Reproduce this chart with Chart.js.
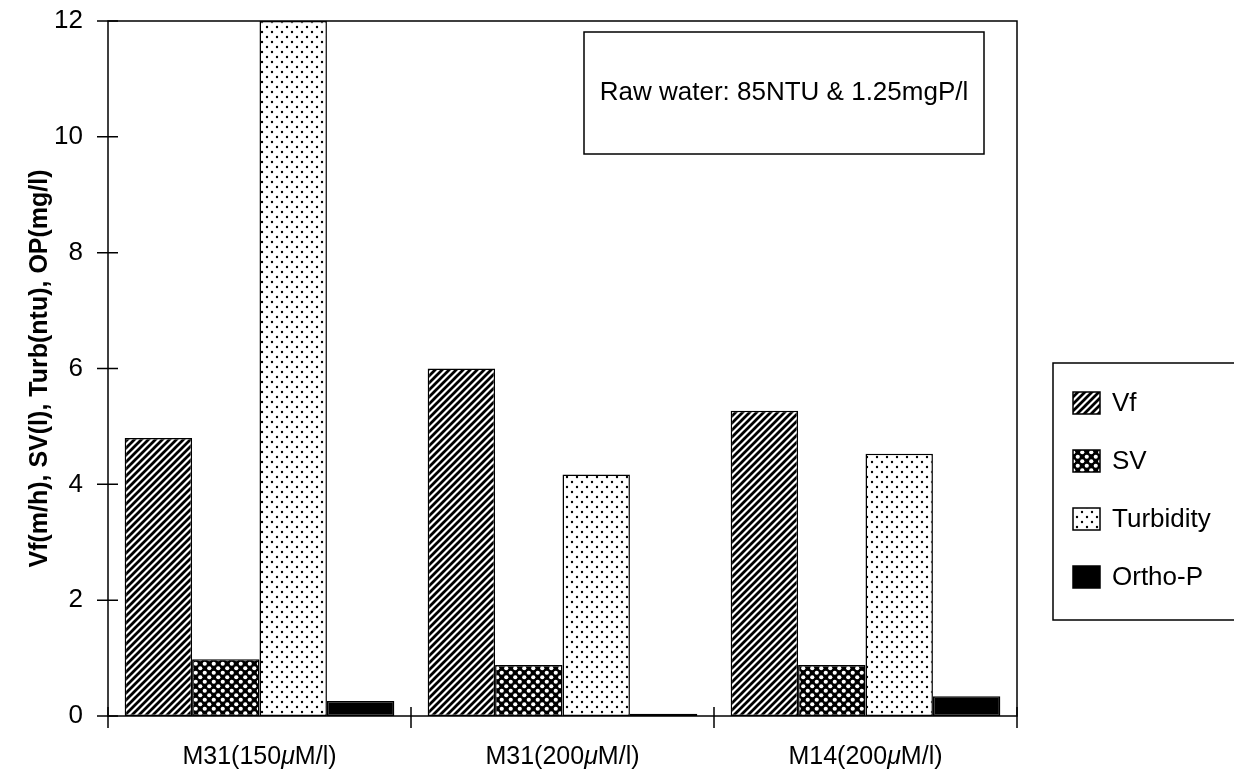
<!DOCTYPE html>
<html>
<head>
<meta charset="utf-8">
<script src="https://cdn.jsdelivr.net/npm/chart.js@4.4.1/dist/chart.umd.min.js"></script>
<style>
  html, body { margin: 0; padding: 0; background: #ffffff; }
  #wrap { width: 1234px; height: 781px; }
</style>
</head>
<body>
<div id="wrap"><canvas id="barChart" width="1234" height="781"></canvas></div>
<script>
// data
const categories = ["M31(150μM/l)", "M31(200μM/l)", "M14(200μM/l)"];
const seriesNames = ["Vf", "SV", "Turbidity", "Ortho-P"];
const vfValues = [4.8, 6.0, 5.27];
const svValues = [0.98, 0.88, 0.88];
const turbidityValues = [12, 4.17, 4.53];
const orthoValues = [0.26, 0.04, 0.34];
const yTicks = [0, 2, 4, 6, 8, 10, 12];
const noteText = "Raw water: 85NTU & 1.25mgP/l";
const yTitle = "Vf(m/h), SV(l), Turb(ntu), OP(mg/l)";

const FONT = "'Liberation Sans', Arial, sans-serif";

// =====================================
// FILL PATTERNS
// =====================================

function makePattern(w, h, draw) {
    const c = document.createElement("canvas");
    c.width = w;
    c.height = h;
    const g = c.getContext("2d");
    draw(g, w, h);
    return c.getContext("2d").createPattern(c, "repeat");
}

const hatch = makePattern(7, 7, (g, w, h) => {
    g.fillStyle = "#fff";
    g.fillRect(0, 0, w, h);
    g.strokeStyle = "#000";
    g.lineWidth = 2.8;
    g.beginPath();
    for (let k = -1; k <= 1; k++) {
        g.moveTo(k * w - 1, h + 1);
        g.lineTo(k * w + w + 1, -1);
    }
    g.stroke();
});

const checker = makePattern(9, 9, (g, w, h) => {
    g.fillStyle = "#000";
    g.fillRect(0, 0, w, h);
    g.fillStyle = "#fff";
    [[2.25, 2.25], [6.75, 6.75]].forEach(([x, y]) => {
        g.beginPath();
        g.arc(x, y, 2.1, 0, Math.PI * 2);
        g.fill();
    });
});

const dots = makePattern(10, 10, (g, w, h) => {
    g.fillStyle = "#fff";
    g.fillRect(0, 0, w, h);
    g.fillStyle = "#000";
    [[2, 2], [7, 7]].forEach(([x, y]) => {
        g.beginPath();
        g.arc(x, y, 1.2, 0, Math.PI * 2);
        g.fill();
    });
});

const fills = [hatch, checker, dots, "#000000"];
const seriesValues = [vfValues, svValues, turbidityValues, orthoValues];

// =====================================
// PLUGIN: frame, crossing ticks, labels, note, legend
// =====================================

const decorations = {
    id: "decorations",
    afterDraw(chart) {
        const ctx = chart.ctx;
        const a = chart.chartArea;
        const xs = chart.scales.x;
        const ys = chart.scales.y;
        const step = xs.getPixelForValue(1) - xs.getPixelForValue(0);

        ctx.save();
        ctx.strokeStyle = "#000";
        ctx.lineWidth = 1.5;

        // plot frame
        ctx.strokeRect(a.left, a.top, a.right - a.left, a.bottom - a.top);

        // y ticks crossing the axis
        ctx.beginPath();
        yTicks.forEach(v => {
            const py = ys.getPixelForValue(v);
            ctx.moveTo(a.left - 11, py);
            ctx.lineTo(a.left + 10, py);
        });
        // x ticks at category boundaries
        for (let i = 0; i <= categories.length; i++) {
            const px = xs.getPixelForValue(0) - step / 2 + i * step;
            ctx.moveTo(px, a.bottom - 9);
            ctx.lineTo(px, a.bottom + 12);
        }
        ctx.stroke();

        // x labels with italic mu
        ctx.fillStyle = "#000";
        ctx.textBaseline = "middle";
        const up = "25px " + FONT;
        const it = "italic 25px " + FONT;
        categories.forEach((lab, i) => {
            const parts = lab.split("μ");
            ctx.font = up;
            const w0 = ctx.measureText(parts[0]).width;
            const w2 = ctx.measureText(parts[1]).width;
            ctx.font = it;
            const w1 = ctx.measureText("μ").width;
            let x = xs.getPixelForValue(i) - (w0 + w1 + w2) / 2;
            const y = a.bottom + 41;
            ctx.textAlign = "left";
            ctx.font = up;
            ctx.fillText(parts[0], x, y);
            x += w0;
            ctx.font = it;
            ctx.fillText("μ", x, y);
            x += w1;
            ctx.font = up;
            ctx.fillText(parts[1], x, y);
        });

        // note box
        ctx.fillStyle = "#fff";
        ctx.fillRect(584, 32, 400, 122);
        ctx.strokeRect(584, 32, 400, 122);
        ctx.fillStyle = "#000";
        ctx.font = "26px " + FONT;
        ctx.textAlign = "center";
        ctx.fillText(noteText, 784, 93);

        // legend box
        const lx = 1053, ly = 363;
        ctx.strokeRect(lx, ly, 200, 257);
        ctx.font = "26px " + FONT;
        ctx.textAlign = "left";
        chart.data.datasets.forEach((ds, i) => {
            const cy = 403 + i * 58;
            ctx.fillStyle = ds.backgroundColor;
            ctx.fillRect(lx + 20, cy - 11, 27, 22);
            ctx.strokeRect(lx + 20, cy - 11, 27, 22);
            ctx.fillStyle = "#000";
            ctx.fillText(ds.label, lx + 59, cy + 1);
        });

        ctx.restore();
    }
};

// =====================================
// BAR CHART
// =====================================

new Chart(document.getElementById("barChart"), {
    type: "bar",
    data: {
        labels: categories,
        datasets: seriesNames.map((name, i) => ({
            label: name,
            data: seriesValues[i],
            backgroundColor: fills[i],
            borderColor: "#000000",
            borderWidth: 1.5,
            borderSkipped: false,
            categoryPercentage: 0.89,
            barPercentage: 1.0
        }))
    },
    options: {
        responsive: false,
        animation: false,
        layout: {
            padding: { left: 0, right: 217, top: 21, bottom: 0 }
        },
        plugins: {
            legend: { display: false },
            tooltip: { enabled: false }
        },
        scales: {
            x: {
                offset: true,
                grid: { display: false },
                border: { display: false },
                ticks: { display: false },
                afterFit(scale) {
                    scale.height = 65;
                    scale.paddingLeft = 0;
                    scale.paddingRight = 0;
                }
            },
            y: {
                min: 0,
                max: 12,
                afterBuildTicks(scale) {
                    scale.ticks = yTicks.map(v => ({ value: v }));
                },
                grid: { display: false },
                border: { display: false },
                ticks: {
                    color: "#000",
                    padding: 17,
                    font: { family: FONT, size: 26 }
                },
                title: {
                    display: true,
                    text: yTitle,
                    color: "#000",
                    font: { family: FONT, size: 25, weight: "bold" },
                    padding: { top: 25, bottom: 0 }
                },
                afterFit(scale) {
                    scale.width = 108;
                    scale.paddingTop = 0;
                    scale.paddingBottom = 0;
                }
            }
        }
    },
    plugins: [decorations]
});
</script>
</body>
</html>
